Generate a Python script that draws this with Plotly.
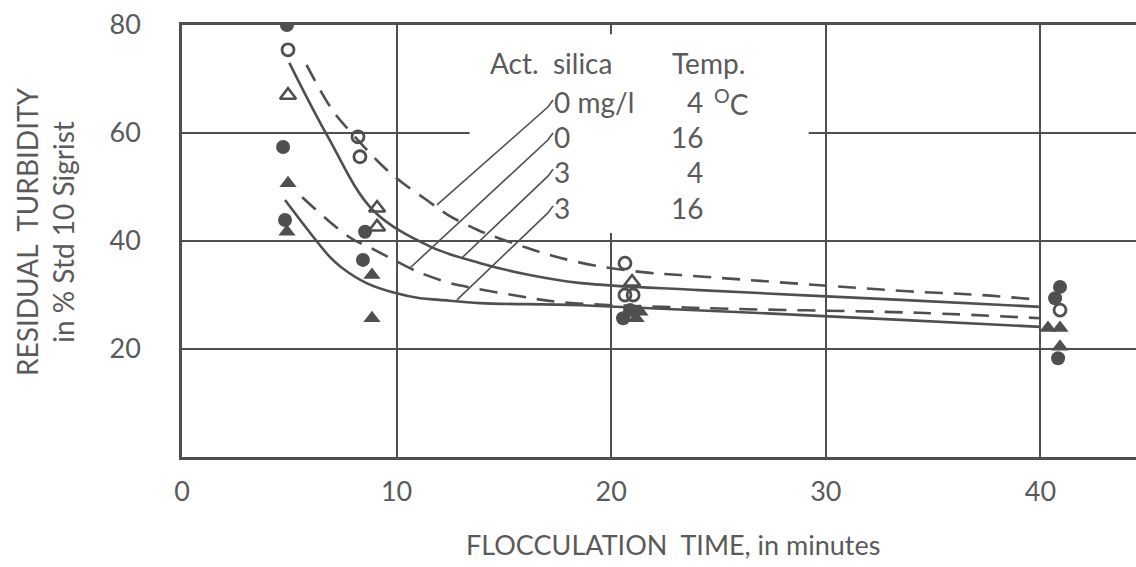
import plotly.graph_objects as go

# ---------------- data ----------------
# measured points
oc_x = [4.94, 8.20, 8.29, 20.64, 20.64, 21.02, 40.91]          # 0 mg/l, 4 °C  (open circles)
oc_y = [75.4, 59.3, 55.6, 35.9, 30.0, 30.0, 27.2]
fc_x = [4.89, 4.71, 4.80, 8.53, 8.43, 20.55, 20.88, 40.91, 40.68, 40.82]  # 0 mg/l, 16 °C (filled circles)
fc_y = [80.0, 57.4, 43.9, 41.7, 36.5, 25.7, 27.2, 31.5, 29.4, 18.3]
ot_x = [4.94, 9.09, 9.09, 20.97]                                 # 3 mg/l, 4 °C  (open triangles)
ot_y = [67.0, 46.1, 42.6, 32.4]
ft_x = [4.94, 4.89, 8.85, 8.85, 21.16, 21.34, 40.35, 40.91, 40.91]  # 3 mg/l, 16 °C (filled triangles)
ft_y = [50.7, 41.7, 33.7, 25.7, 25.7, 26.9, 23.9, 23.9, 20.4]

# fitted curves (hand-read)
c1_x = [5.8, 7.0, 7.9, 9.4, 10.3, 11.4, 12.4, 13.8, 14.7, 16.1, 17.6, 19.6, 21.8, 23.2, 33.8, 37.2, 40.0]
c1_y = [72.6, 64.3, 60.0, 53.7, 50.7, 47.6, 44.8, 42.0, 40.6, 38.7, 36.9, 35.2, 34.1, 33.7, 30.7, 30.0, 29.1]
c2_x = [5.6, 7.8, 8.8, 10.5, 11.1, 12.5, 13.3, 15.4, 17.6, 24.1, 34.3, 40.0]
c2_y = [48.1, 40.7, 38.7, 35.2, 34.1, 32.2, 31.5, 30.0, 28.7, 27.6, 26.7, 25.7]
c3_x = [5.0, 6.8, 8.9, 11.6, 13.9, 16.2, 18.6, 24.1, 33.5, 40.0]
c3_y = [73.0, 59.3, 45.7, 38.9, 35.9, 33.7, 32.2, 30.9, 29.1, 27.8]
c4_x = [4.8, 6.9, 7.4, 8.6, 9.9, 11.1, 12.0, 13.9, 18.6, 33.5, 40.0]
c4_y = [47.6, 37.0, 35.2, 32.2, 30.4, 29.4, 29.1, 28.5, 28.1, 25.4, 24.1]

# leader lines from the key text to the curves
lead_x = [[11.88, 17.05, 17.29], [10.62, 17.05, 17.29], [13.05, 17.05, 17.29], [12.81, 17.05, 17.29]]
lead_y = [[46.7, 64.8, 66.1], [35.0, 58.7, 60.0], [36.9, 52.0, 53.3], [29.1, 45.2, 46.5]]

# key text
key_silica = ["0 mg/l", "0", "3", "3"]
key_temp = ["4", "16", "4", "16"]
key_row_y = [65.7, 59.3, 52.8, 46.1]

x_ticks = [0, 10, 20, 30, 40]
y_ticks = [20, 40, 60, 80]

# ---------------- styling ----------------
INK = "#4f4f4f"
TXT = "#5a5a5a"
FONT = "Lato"
DASH = "18px,11px"

fig = go.Figure()

for cx, cy, dash in [(c1_x, c1_y, DASH), (c2_x, c2_y, DASH), (c3_x, c3_y, "solid"), (c4_x, c4_y, "solid")]:
    fig.add_trace(go.Scatter(x=cx, y=cy, mode="lines",
                             line=dict(color=INK, width=2.6, dash=dash, shape="spline", smoothing=1.0),
                             hoverinfo="skip", showlegend=False))

for lx, ly in zip(lead_x, lead_y):
    fig.add_trace(go.Scatter(x=lx, y=ly, mode="lines", line=dict(color=INK, width=1.6),
                             hoverinfo="skip", showlegend=False))

fig.add_trace(go.Scatter(x=fc_x, y=fc_y, mode="markers",
                         marker=dict(symbol="circle", size=14, color=INK, line=dict(width=0)), showlegend=False))
fig.add_trace(go.Scatter(x=ft_x, y=ft_y, mode="markers",
                         marker=dict(symbol="triangle-up", size=15, color=INK, line=dict(width=0)), showlegend=False))
fig.add_trace(go.Scatter(x=oc_x, y=oc_y, mode="markers",
                         marker=dict(symbol="circle-open", size=12, color=INK, line=dict(width=2.8)), showlegend=False))
fig.add_trace(go.Scatter(x=ot_x, y=ot_y, mode="markers",
                         marker=dict(symbol="triangle-up-open", size=14, color=INK, line=dict(width=2.6)), showlegend=False))

KEYF = dict(family=FONT, size=28, color=TXT)
ann = []
ann.append(dict(x=14.26, y=73.0, xref="x", yref="y", text="Act.\u00a0 silica", showarrow=False,
                xanchor="left", yanchor="middle", font=KEYF))
ann.append(dict(x=22.74, y=73.0, xref="x", yref="y", text="Temp.", showarrow=False,
                xanchor="left", yanchor="middle", font=KEYF))
for s, t, yy in zip(key_silica, key_temp, key_row_y):
    ann.append(dict(x=17.24, y=yy, xref="x", yref="y", text=s, showarrow=False,
                    xanchor="left", yanchor="middle", font=KEYF))
    ann.append(dict(x=24.37, y=yy, xref="x", yref="y", text=t, showarrow=False,
                    xanchor="right", yanchor="middle", font=KEYF))
ann.append(dict(x=24.70, y=key_row_y[0], xref="x", yref="y", text="<sup>O</sup>C", showarrow=False,
                xanchor="left", yanchor="middle", font=KEYF))

ann.append(dict(x=-0.1436, y=0.521, xref="paper", yref="paper",
                text="RESIDUAL\u00a0 TURBIDITY<br>in % Std 10 Sigrist", textangle=-90,
                showarrow=False, xanchor="center", yanchor="middle",
                font=dict(family=FONT, size=28, color=TXT)))
ann.append(dict(x=0.5147, y=-0.2037, xref="paper", yref="paper",
                text="FLOCCULATION\u00a0 TIME, in minutes", showarrow=False,
                xanchor="center", yanchor="middle", font=dict(family=FONT, size=27, color=TXT)))

fig.update_layout(
    width=1136, height=567, autosize=False,
    margin=dict(l=182, r=0, t=25, b=110),
    paper_bgcolor="white", plot_bgcolor="white",
    annotations=ann,
    shapes=[dict(type="rect", xref="x", yref="y", x0=13.4, x1=29.2, y0=41.5, y1=78.3,
                 fillcolor="white", line=dict(width=0), layer="between")],
    xaxis=dict(range=[0, 44.45], tickvals=x_ticks, ticktext=[str(v) for v in x_ticks],
               showgrid=True, gridcolor=INK, gridwidth=2, zeroline=False,
               showline=True, linecolor=INK, linewidth=2.5, mirror=True,
               ticks="outside", ticklen=0, ticklabelstandoff=9,
               tickfont=dict(family=FONT, size=27, color=TXT)),
    yaxis=dict(range=[0, 80], tickvals=y_ticks, ticktext=[str(v) for v in y_ticks],
               showgrid=True, gridcolor=INK, gridwidth=2, zeroline=False,
               showline=True, linecolor=INK, linewidth=2.5,
               ticks="outside", ticklen=0, ticklabelstandoff=33,
               tickfont=dict(family=FONT, size=27, color=TXT)),
)

fig.write_html("out.html")
